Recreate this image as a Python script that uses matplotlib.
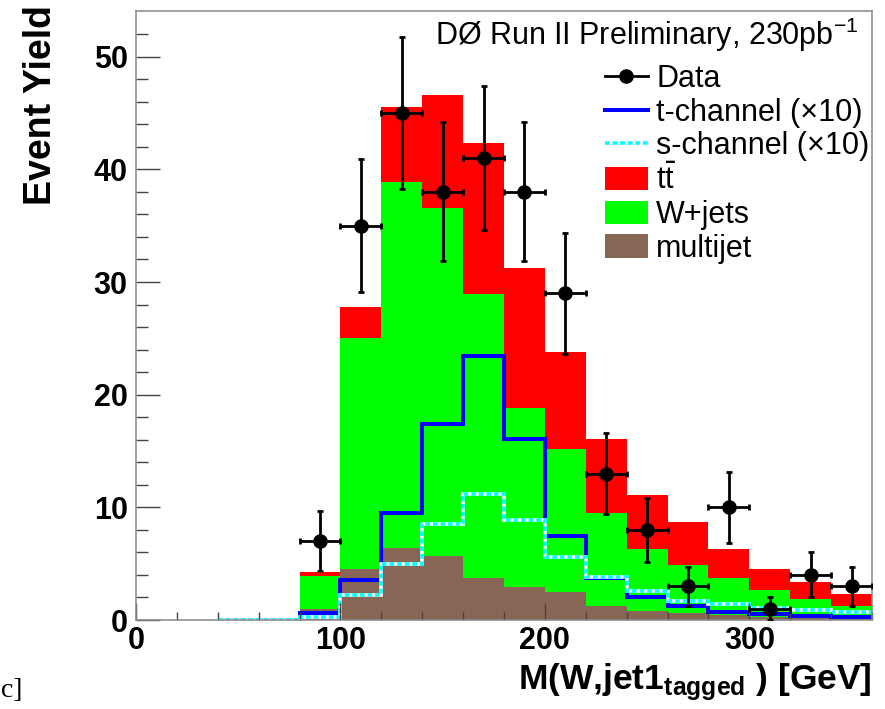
import numpy as np
import matplotlib
matplotlib.use('Agg')
from matplotlib import pyplot as plt
from matplotlib.lines import Line2D
from matplotlib.patches import Patch

plt.rcParams['font.family'] = ['Liberation Sans', 'DejaVu Sans']

# background bins (20 GeV) from 80 to 360
bkg_edges = [80, 100, 120, 140, 160, 180, 200, 220, 240, 260, 280, 300, 320, 340, 360]
multijet = [1.0, 4.5, 6.4, 5.7, 3.7, 2.9, 2.5, 1.2, 0.8, 0.6, 0.45, 0.3, 0.2, 0.15]
wjets = [2.9, 20.5, 32.5, 30.9, 25.2, 15.9, 12.7, 8.3, 5.5, 4.25, 3.25, 2.4, 1.7, 1.05]
ttbar = [0.35, 2.8, 6.6, 10.0, 13.4, 12.4, 8.6, 6.6, 4.8, 3.85, 2.6, 1.8, 1.5, 1.1]

# signal (x10) from 40 to 360
sig_edges = [40, 60, 80, 100, 120, 140, 160, 180, 200, 220, 240, 260, 280, 300, 320, 340, 360]
tchan = [0, 0, 0.6, 3.55, 9.5, 17.4, 23.4, 16.1, 7.5, 3.7, 2.0, 1.2, 0.75, 0.53, 0.36, 0.24]
schan = [0, 0, 0.25, 2.2, 5.0, 8.5, 11.15, 8.9, 5.6, 3.85, 2.6, 1.7, 1.42, 1.04, 0.89, 0.7]

# data
data_x = [90, 110, 130, 150, 170, 190, 210, 230, 250, 270, 290, 310, 330, 350]
data_y = [7, 35, 45, 38, 41, 38, 29, 13, 8, 3, 10, 1, 4, 3]
data_err = [2.65, 5.92, 6.71, 6.16, 6.40, 6.16, 5.39, 3.61, 2.83, 1.73, 3.16, 1.0, 2.0, 1.73]

RED = '#ff0000'
GREEN = '#00ff00'
BROWN = '#886655'
BLUE = '#0000ff'
CYAN = '#00ffff'

fig = plt.figure(figsize=(8.85, 7.09), dpi=100)
ax = fig.add_axes([136/885, 1-620/709, 736/885, 609.5/709])

mj = np.array(multijet)
wj = np.array(wjets)
tt = np.array(ttbar)
ax.stairs(mj + wj + tt, bkg_edges, baseline=mj + wj, fill=True, color=RED, lw=0)
ax.stairs(mj + wj, bkg_edges, baseline=mj, fill=True, color=GREEN, lw=0)
ax.stairs(mj, bkg_edges, baseline=0, fill=True, color=BROWN, lw=0)

ax.stairs(tchan, sig_edges, baseline=None, color=BLUE, lw=2.9)
ax.stairs(schan, sig_edges, baseline=None, color='white', lw=2.6)
ax.stairs(schan, sig_edges, baseline=None, color=CYAN, lw=2.6,
          linestyle=(0, (1.3, 0.8)))

ax.errorbar(data_x, data_y, xerr=10, yerr=data_err, fmt='o', color='k',
            ms=9.5, elinewidth=2.0, capsize=2.2, capthick=2.0, zorder=5)

ax.set_xlim(0, 360)
ax.set_ylim(0, 54.1)
ax.set_xticks([0, 100, 200, 300])
ax.set_xticks(np.arange(0, 361, 20), minor=True)
ax.set_yticks([0, 10, 20, 30, 40, 50])
ax.set_yticks(np.arange(0, 54, 2), minor=True)

for s in ax.spines.values():
    s.set_color('#888888')
    s.set_linewidth(1.1)
ax.tick_params(axis='both', which='both', direction='in', colors='#444444',
               labelcolor='black', width=1.0)
ax.tick_params(axis='y', which='major', length=17, pad=6)
ax.tick_params(axis='y', which='minor', length=8.5)
ax.tick_params(axis='x', which='major', length=12, pad=4)
ax.tick_params(axis='x', which='minor', length=6)
for lab in ax.get_xticklabels() + ax.get_yticklabels():
    lab.set_fontsize(22)
    lab.set_fontweight('bold')

ax.set_ylabel('Event Yield', fontsize=27, fontweight='bold', loc='top')
ax.yaxis.set_label_coords(-0.104, 1.008)
ax.set_xlabel(r'M(W,jet1$_{\mathregular{tagged}}$ ) [GeV]', fontsize=25.5,
              fontweight='bold', loc='right')
ax.xaxis.set_label_coords(1.0, -0.068)

ax.text(0.981, 0.9434, r'DØ Run II Preliminary, 230pb$^{\mathregular{-1}}$',
        transform=ax.transAxes, ha='right', va='baseline', fontsize=22)

handles = [
    Line2D([], [], color='k', marker='o', ms=9.5, lw=2.0),
    Line2D([], [], color=BLUE, lw=2.9),
    Line2D([], [], color=CYAN, lw=2.6, dashes=(1.3, 0.8)),
    Patch(facecolor=RED, edgecolor='none'),
    Patch(facecolor=GREEN, edgecolor='none'),
    Patch(facecolor=BROWN, edgecolor='none'),
]
labels = ['Data', 't-channel (×10)', 's-channel (×10)',
          r't$\bar{\mathregular{t}}$', 'W+jets', 'multijet']
ax.legend(handles, labels, loc='upper left', bbox_to_anchor=(0.637, 0.912),
          frameon=False, fontsize=22, handlelength=1.4, handletextpad=0.28,
          labelspacing=0.12, borderpad=0, borderaxespad=0, handleheight=0.8)

fig.text(0.001, 0.017, 'c]', family='Liberation Serif', fontsize=20,
         va='baseline')

fig.savefig('out.png', dpi=100)
